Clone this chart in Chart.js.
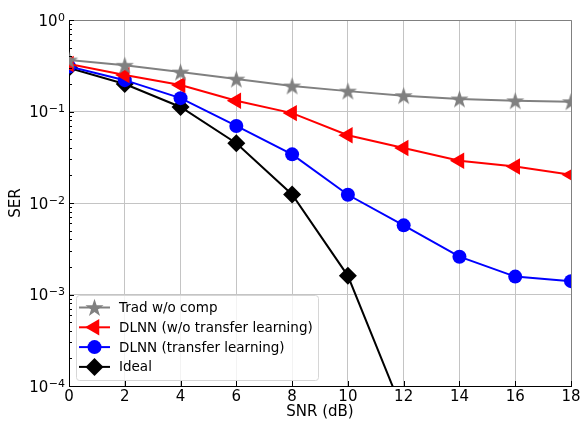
<!DOCTYPE html>
<html>
<head>
<meta charset="utf-8">
<script src="https://cdn.jsdelivr.net/npm/chart.js@4/dist/chart.umd.min.js"></script>
<style>
  html, body { margin: 0; padding: 0; background: #ffffff; }
  #wrap { width: 583px; height: 426px; }
</style>
</head>
<body>
<div id="wrap"><canvas id="myChart" width="583" height="426"></canvas></div>
<script>
const snr = [0, 2, 4, 6, 8, 10, 12, 14, 16, 18];
const serTrad = [0.365, 0.32, 0.27, 0.226, 0.19, 0.167, 0.149, 0.137, 0.131, 0.128];
const serNoTransfer = [0.33, 0.25, 0.195, 0.131, 0.096, 0.055, 0.040, 0.029, 0.025, 0.0203];
const serTransfer = [0.31, 0.22, 0.14, 0.0695, 0.034, 0.0123, 0.0057, 0.00259, 0.00157, 0.0014];
const serIdeal = [0.30, 0.20, 0.112, 0.045, 0.0124, 0.0016, 0.00005, null, null, null];
const seriesNames = ["Trad w/o comp", "DLNN (w/o transfer learning)", "DLNN (transfer learning)", "Ideal"];
const yTickValues = [1e-4, 1e-3, 1e-2, 1e-1, 1];
const yTickExponents = ["\u22124", "\u22123", "\u22122", "\u22121", "0"];

const FONT = "'DejaVu Sans', sans-serif";

// filled five point star, like the matplotlib '*' marker
function makeStar(color, r) {
  let c = document.createElement("canvas");
  let size = Math.ceil(r * 2 + 2);
  c.width = size;
  c.height = size;
  let g = c.getContext("2d");
  let cx = size / 2, cy = size / 2 + 0.8;
  let inner = r * 0.382;
  g.beginPath();
  for (let i = 0; i < 10; i++) {
    let rad = (i * Math.PI) / 5 - Math.PI / 2;
    let rr = i % 2 === 0 ? r : inner;
    let px = cx + Math.cos(rad) * rr;
    let py = cy + Math.sin(rad) * rr;
    if (i === 0) g.moveTo(px, py);
    else g.lineTo(px, py);
  }
  g.closePath();
  g.fillStyle = color;
  g.fill();
  return c;
}

const starImg = makeStar("#808080", 9.5);

function toPoints(vals) {
  let pts = [];
  for (let i = 0; i < snr.length; i++) {
    if (vals[i] !== null) pts.push({ x: snr[i], y: vals[i] });
  }
  return pts;
}

let datasets = [
  { label: seriesNames[0], data: toPoints(serTrad), borderColor: "#808080", backgroundColor: "#808080",
    pointStyle: starImg, pointRadius: 9, pointRotation: 0 },
  { label: seriesNames[1], data: toPoints(serNoTransfer), borderColor: "#ff0000", backgroundColor: "#ff0000",
    pointStyle: "triangle", pointRadius: 9.5, pointRotation: -90 },
  { label: seriesNames[2], data: toPoints(serTransfer), borderColor: "#0000ff", backgroundColor: "#0000ff",
    pointStyle: "circle", pointRadius: 7, pointRotation: 0 },
  { label: seriesNames[3], data: toPoints(serIdeal), borderColor: "#000000", backgroundColor: "#000000",
    pointStyle: "rectRot", pointRadius: 9, pointRotation: 0 },
].map(function (d) {
  d.borderWidth = 2;
  d.pointBorderWidth = 0;
  d.tension = 0;
  d.fill = false;
  d.clip = 0;
  return d;
});

// inward ticks, log minor ticks, 10^n labels and the grey top/right spines
const framePlugin = {
  id: "frame",
  afterDraw(chart) {
    let ctx = chart.ctx;
    let a = chart.chartArea;
    let ys = chart.scales.y;
    let xs = chart.scales.x;
    ctx.save();
    ctx.strokeStyle = "#808080";
    ctx.lineWidth = 1;
    ctx.beginPath();
    ctx.moveTo(a.left, a.top + 0.5);
    ctx.lineTo(a.right + 0.5, a.top + 0.5);
    ctx.lineTo(a.right + 0.5, a.bottom);
    ctx.stroke();

    ctx.strokeStyle = "#000000";
    ctx.beginPath();
    for (let k = -4; k < 0; k++) {
      for (let m = 2; m <= 9; m++) {
        let py = Math.round(ys.getPixelForValue(m * Math.pow(10, k))) + 0.5;
        ctx.moveTo(a.left, py);
        ctx.lineTo(a.left + 3, py);
      }
    }
    yTickValues.forEach(function (v) {
      let py = Math.round(ys.getPixelForValue(v)) + 0.5;
      ctx.moveTo(a.left, py);
      ctx.lineTo(a.left + 5, py);
    });
    snr.forEach(function (v) {
      let px = Math.round(xs.getPixelForValue(v)) + 0.5;
      ctx.moveTo(px, a.bottom);
      ctx.lineTo(px, a.bottom - 5);
    });
    ctx.stroke();

    // y tick labels as 10 with a raised exponent
    ctx.fillStyle = "#000000";
    ctx.textBaseline = "alphabetic";
    ctx.textAlign = "left";
    yTickValues.forEach(function (v, i) {
      let py = ys.getPixelForValue(v);
      let right = a.left - 4;
      ctx.font = "11px " + FONT;
      let ew = ctx.measureText(yTickExponents[i]).width;
      ctx.fillText(yTickExponents[i], right - ew, py + 0.5);
      ctx.font = "15px " + FONT;
      let bw = ctx.measureText("10").width;
      ctx.fillText("10", right - ew - bw - 0.5, py + 5.5);
    });
    ctx.restore();
  },
};

// legend box in the lower left of the plot area
const legendPlugin = {
  id: "innerLegend",
  afterDraw(chart) {
    let ctx = chart.ctx;
    let a = chart.chartArea;
    let bx = a.left + 7, by = 295, bw = 242, bh = 85;
    ctx.save();
    ctx.beginPath();
    ctx.roundRect(bx + 0.5, by + 0.5, bw, bh, 3);
    ctx.fillStyle = "rgba(255,255,255,0.8)";
    ctx.fill();
    ctx.strokeStyle = "#d6d6d6";
    ctx.lineWidth = 1;
    ctx.stroke();

    chart.data.datasets.forEach(function (d, i) {
      let rowY = by + 12.5 + i * 19.8;
      let x0 = bx + 3, x1 = bx + 34;
      ctx.strokeStyle = d.borderColor;
      ctx.lineWidth = 2;
      ctx.beginPath();
      ctx.moveTo(x0, rowY);
      ctx.lineTo(x1, rowY);
      ctx.stroke();
      ctx.fillStyle = d.backgroundColor;
      Chart.helpers.drawPoint(ctx, {
        pointStyle: d.pointStyle,
        radius: d.pointRadius,
        rotation: d.pointRotation,
        borderWidth: 0,
      }, (x0 + x1) / 2, rowY);
      ctx.fillStyle = "#000000";
      ctx.font = "13.5px " + FONT;
      ctx.textBaseline = "middle";
      ctx.textAlign = "left";
      ctx.fillText(d.label, bx + 43, rowY + 1);
    });
    ctx.restore();
  },
};

let myChart = new Chart(document.getElementById("myChart").getContext("2d"), {
  type: "line",
  data: { datasets: datasets },
  plugins: [framePlugin, legendPlugin],
  options: {
    responsive: false,
    animation: false,
    events: [],
    layout: { padding: { top: 20, right: 12, left: 0, bottom: 0 } },
    plugins: { legend: { display: false }, tooltip: { enabled: false } },
    scales: {
      x: {
        type: "linear",
        min: 0,
        max: 18,
        afterFit: function (scale) { scale.height = 40; },
        afterBuildTicks: function (scale) {
          scale.ticks = snr.map(function (v) { return { value: v }; });
        },
        ticks: { color: "#000000", font: { family: FONT, size: 15 }, padding: 2, maxRotation: 0 },
        grid: { color: "#c4c4c4", lineWidth: 1, drawTicks: false },
        border: { color: "#000000", width: 1 },
        title: { display: true, text: "SNR (dB)", color: "#000000", font: { family: FONT, size: 15 }, padding: { top: 0, bottom: 5 } },
      },
      y: {
        type: "logarithmic",
        min: 1e-4,
        max: 1,
        afterFit: function (scale) { scale.width = 69; },
        afterBuildTicks: function (scale) {
          scale.ticks = yTickValues.map(function (v) { return { value: v }; });
        },
        ticks: { display: false },
        grid: { color: "#c4c4c4", lineWidth: 1, drawTicks: false },
        border: { color: "#000000", width: 1 },
        title: { display: true, text: "SER", color: "#000000", font: { family: FONT, size: 15 }, padding: { top: 7, bottom: 0 } },
      },
    },
  },
});
</script>
</body>
</html>
